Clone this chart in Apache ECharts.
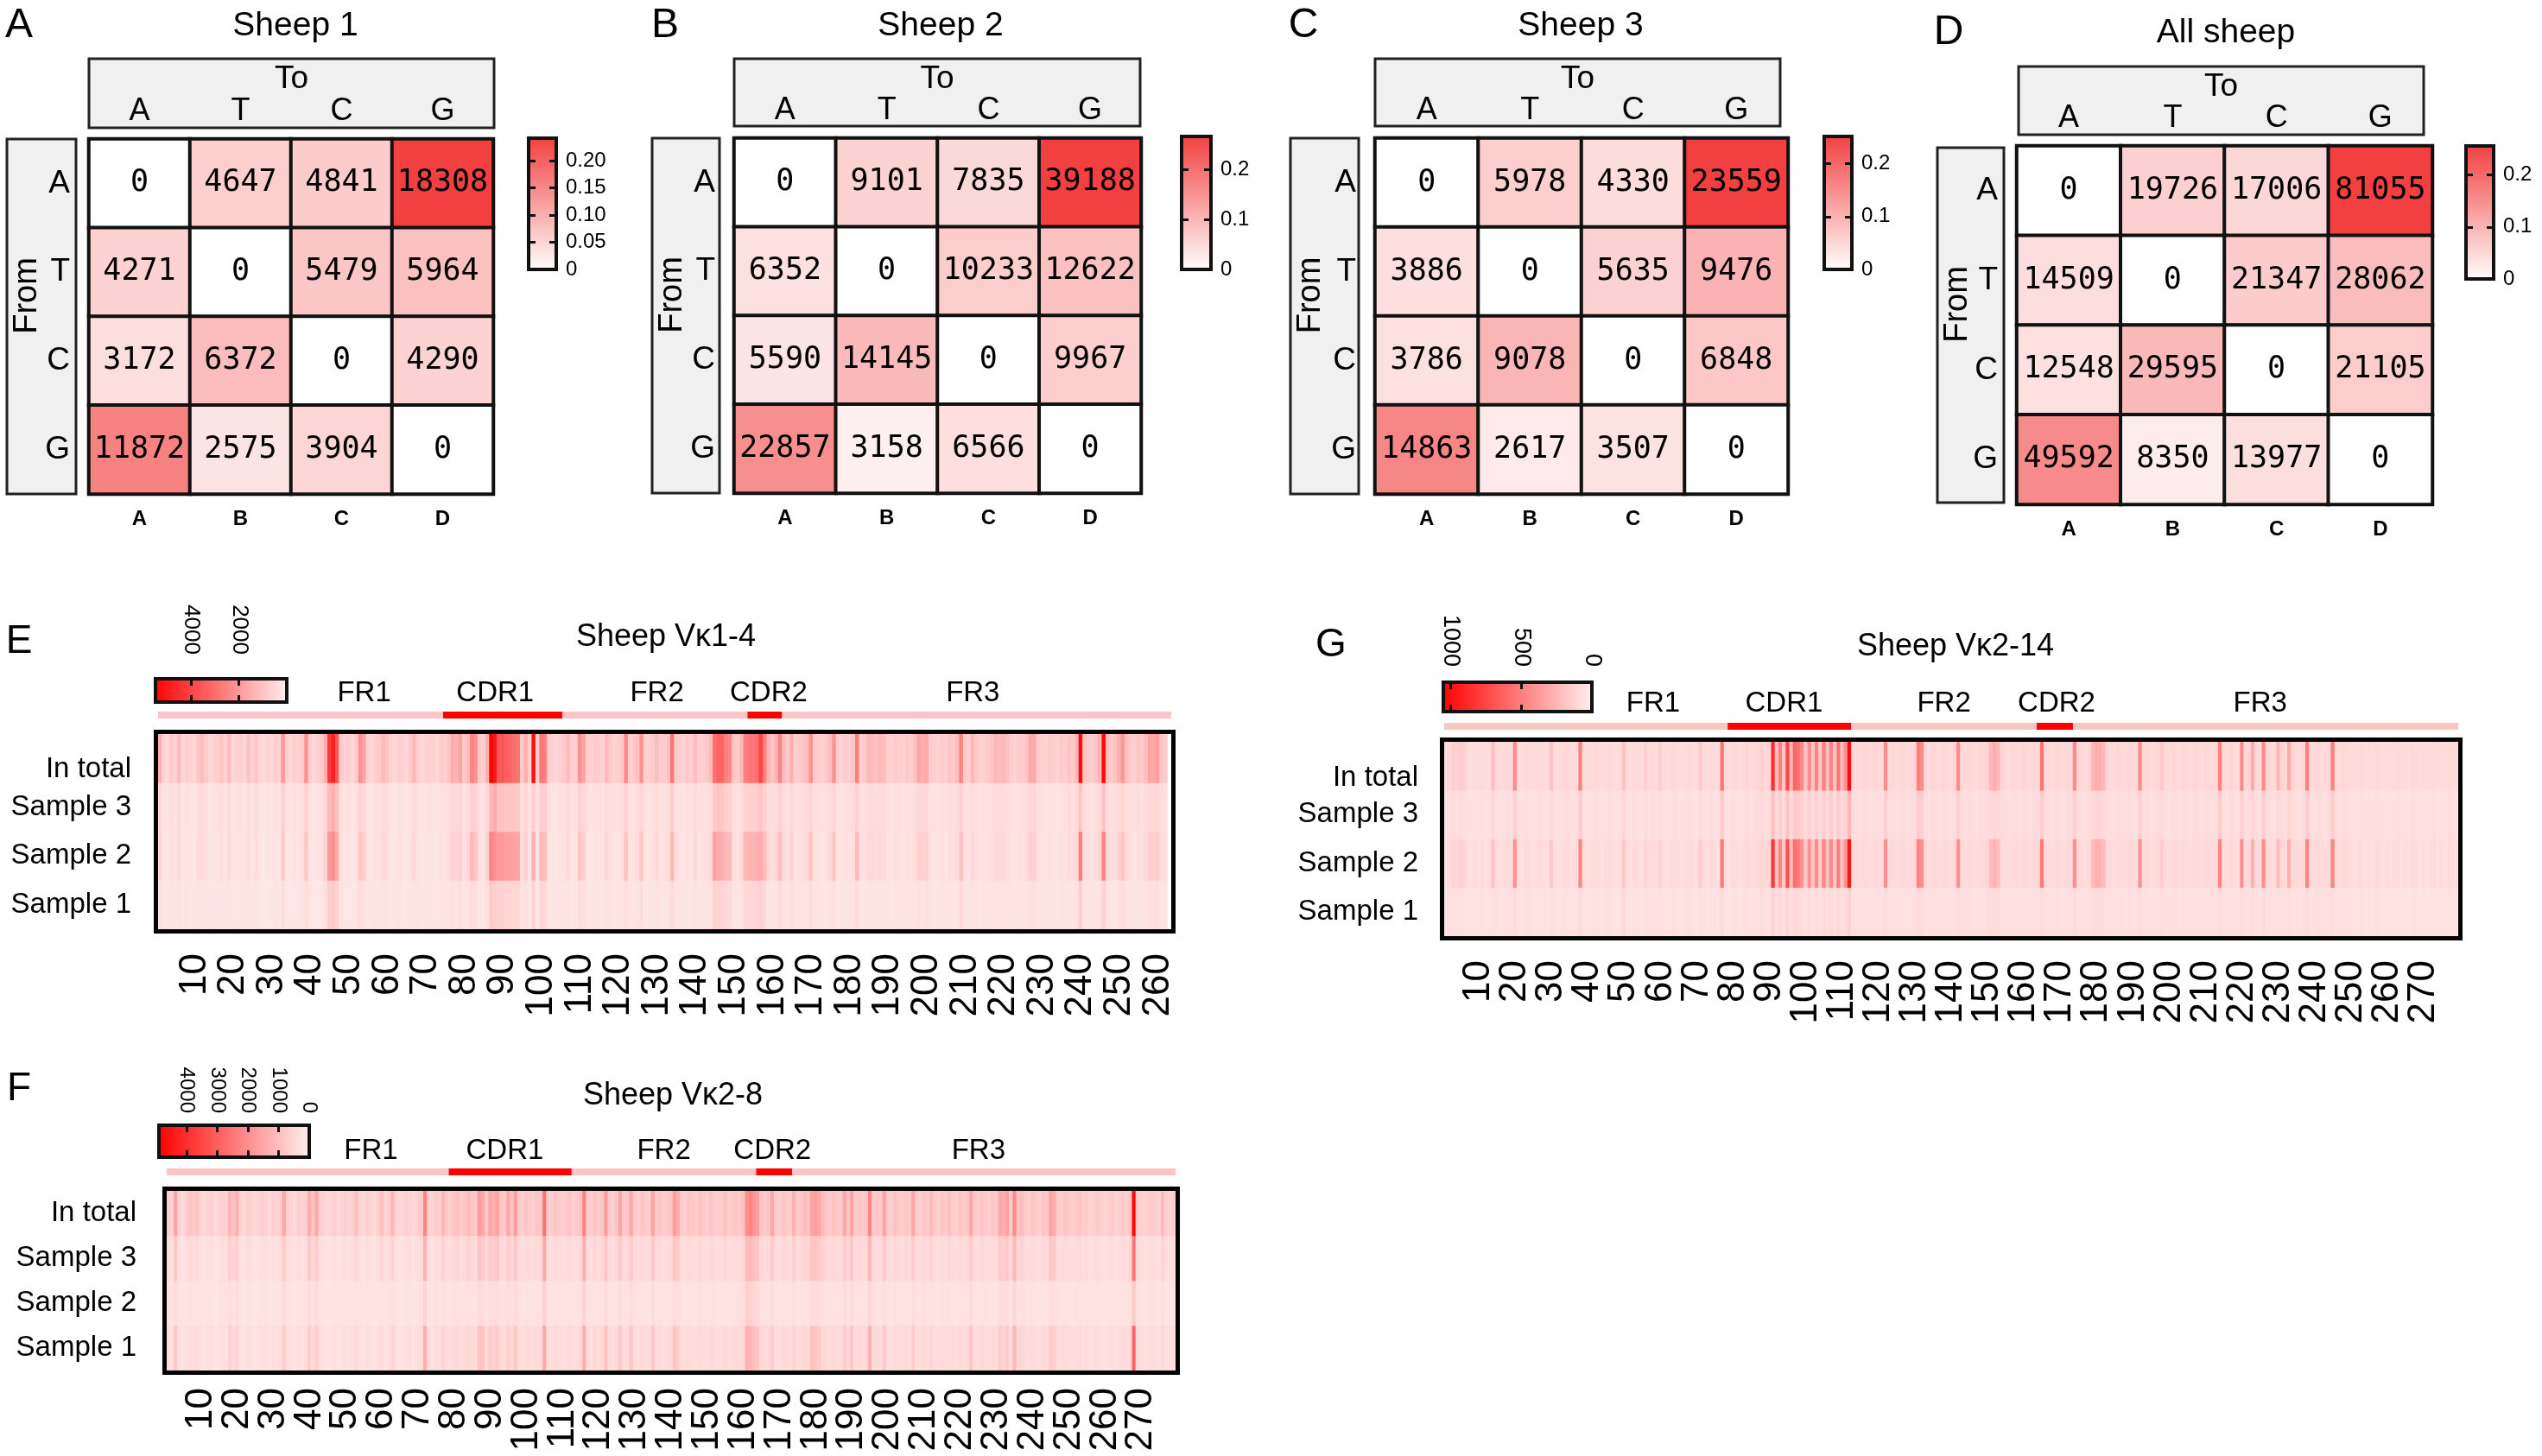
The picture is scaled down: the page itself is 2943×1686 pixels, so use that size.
<!DOCTYPE html>
<html><head><meta charset="utf-8">
<script src="https://cdn.jsdelivr.net/npm/echarts/dist/echarts.min.js"></script>
<style>html,body{margin:0;padding:0;background:#fff}#c{width:2943px;height:1686px}</style>
</head><body><div id="c"></div>
<script>
// ---------------- DATA ----------------
const bases = ['A','T','C','G'];
const bottomLabels = ['A','B','C','D'];
const sheep1 = [[0,4647,4841,18308],[4271,0,5479,5964],[3172,6372,0,4290],[11872,2575,3904,0]];
const sheep2 = [[0,9101,7835,39188],[6352,0,10233,12622],[5590,14145,0,9967],[22857,3158,6566,0]];
const sheep3 = [[0,5978,4330,23559],[3886,0,5635,9476],[3786,9078,0,6848],[14863,2617,3507,0]];
const allSheep = [[0,19726,17006,81055],[14509,0,21347,28062],[12548,29595,0,21105],[49592,8350,13977,0]];
const matrixTitles = ['Sheep 1','Sheep 2','Sheep 3','All sheep'];
const matrixLetters = ['A','B','C','D'];
const rowNames = ['Sample 1','Sample 2','Sample 3','In total'];
const regionNames = ['FR1','CDR1','FR2','CDR2','FR3'];

// Sheep Vk1-4 (panel E), 263 positions
const E_len = 263;
const E_regionStart = [1,75,106,154,163];
const E_regionEnd = [74,105,153,162,263];
const E_labelPos = [54,88,130,159,212];
const E_total = [1500,700,600,900,700,1200,600,800,700,600,
1000,1200,900,600,700,800,1000,700,1200,600,
700,800,600,1100,700,1000,600,500,700,600,
800,700,2000,700,600,800,700,900,2200,800,
600,700,900,1500,4200,4800,3500,900,700,800,
600,900,2200,1800,700,600,800,900,1200,1000,
700,600,800,700,600,900,1300,800,600,700,
800,700,600,900,800,1000,1600,1400,1800,900,
1200,2500,2200,900,700,1500,5500,5000,3500,3600,
3300,3200,3000,2800,900,1500,700,5200,800,2800,
2600,800,700,600,800,900,1200,700,800,2200,
1800,800,700,900,800,700,1300,900,700,800,
900,2400,800,900,1100,2200,800,700,900,1200,
800,900,1000,2800,900,800,700,900,800,1200,
700,800,900,1200,3000,3300,3200,2600,2400,1000,
900,1300,2600,2800,2800,3000,4000,2600,1400,1000,
1400,2500,1200,900,1500,800,900,1000,1200,2200,
900,800,700,900,1200,2200,800,700,900,800,
1000,2600,800,900,1300,1200,1100,1300,1200,800,
700,900,800,700,900,800,1100,1700,1500,1700,
900,800,700,900,800,1000,900,1200,2500,900,
800,1300,900,700,800,900,1000,1300,1200,1300,
1100,800,700,900,800,1100,1700,1600,900,800,
700,900,800,700,900,800,1000,900,1300,5200,
1100,900,800,1000,1400,5300,1200,900,1000,1500,
2000,1100,900,800,1000,900,1200,1800,1700,1900,1000,900];
const E_s3 = [600,350,300,450,350,500,300,400,350,300,
450,500,400,300,350,400,450,350,500,300,
350,400,300,450,350,450,300,250,350,300,
400,350,700,350,300,400,350,400,700,400,
300,350,400,600,1300,1500,1100,400,350,400,
300,400,700,600,350,300,400,400,500,450,
350,300,400,350,300,400,500,400,300,350,
400,350,300,400,400,450,600,550,650,400,
500,800,700,400,350,600,1300,1600,1100,1100,
1000,1000,950,900,400,600,350,800,400,800,
750,400,350,300,400,400,500,350,400,700,
600,400,350,400,400,350,500,400,350,400,
400,700,400,400,450,650,400,350,400,500,
400,400,450,800,400,400,350,400,400,500,
350,400,400,500,900,1000,950,800,750,450,
400,500,700,750,750,800,1000,700,500,450,
500,700,500,400,550,400,400,450,500,650,
400,400,350,400,500,650,400,350,400,400,
450,700,400,400,500,500,450,500,500,400,
350,400,400,350,400,400,450,600,550,600,
400,400,350,400,400,450,400,500,700,400,
400,500,400,350,400,400,450,500,500,500,
450,400,350,400,400,450,600,550,400,400,
350,400,400,350,400,400,450,400,500,1000,
450,400,400,450,500,1100,500,400,450,550,
650,450,400,400,450,400,500,600,550,600,450,400];
const E_s2 = [600,300,250,400,300,500,250,350,300,250,
450,500,400,250,300,350,450,300,500,250,
300,350,250,450,300,450,250,200,300,250,
350,300,900,300,250,350,300,400,1000,350,
250,300,400,700,2000,2300,1600,400,300,350,
250,400,1000,800,300,250,350,400,550,450,
300,250,350,300,250,400,600,350,250,300,
350,300,250,400,350,450,700,650,800,400,
550,1300,1000,400,300,700,2600,2200,2000,2000,
1900,1900,1800,1700,400,700,300,1500,350,1300,
1200,350,300,250,350,400,550,300,350,1000,
800,350,300,400,350,300,600,400,300,350,
400,1100,350,400,500,1000,350,300,400,550,
350,400,450,1300,400,350,300,400,350,550,
300,350,400,550,1800,1600,1500,1300,1200,450,
400,600,1300,1400,1400,1500,1600,1200,650,450,
650,1200,550,400,700,350,400,450,550,1000,
400,350,300,400,550,1000,350,300,400,350,
450,1200,350,400,600,550,500,600,550,350,
300,400,350,300,400,350,500,800,700,800,
400,350,300,400,350,450,400,550,1100,400,
350,600,400,300,350,400,450,600,550,600,
500,350,300,400,350,500,800,750,400,350,
300,400,350,300,400,350,450,400,600,2600,
500,400,350,450,650,2500,550,400,450,700,
1000,500,400,350,450,400,550,800,750,850,450,400];
const E_s1 = [400,250,250,300,250,350,250,300,250,250,
300,350,300,250,250,300,300,250,350,250,
250,300,250,300,250,300,250,200,250,250,
300,250,450,250,250,300,250,300,500,300,
250,250,300,400,800,900,700,300,250,300,
250,300,500,400,250,250,300,300,350,300,
250,250,300,250,250,300,350,300,250,250,
300,250,250,300,300,300,400,350,450,300,
350,500,450,300,250,400,900,800,700,700,
650,650,600,600,300,400,250,700,300,600,
550,300,250,250,300,300,350,250,300,450,
400,300,250,300,300,250,350,300,250,300,
300,450,300,300,350,450,300,250,300,350,
300,300,350,500,300,300,250,300,300,350,
250,300,300,350,700,700,650,550,500,300,
300,350,600,600,650,650,700,550,350,300,
350,500,350,300,400,300,300,300,350,450,
300,300,250,300,350,450,300,250,300,300,
300,500,300,300,350,350,300,350,350,300,
250,300,300,250,300,300,300,400,350,400,
300,300,250,300,300,300,300,350,500,300,
300,350,300,250,300,300,300,350,350,350,
300,300,250,300,300,350,400,400,300,300,
250,300,300,250,300,300,300,300,350,800,
300,300,300,300,350,700,350,300,300,400,
450,300,300,300,300,300,350,400,400,450,300,300];

// Sheep Vk2-8 (panel F), 279 positions
const F_len = 279;
const F_regionStart = [1,79,113,164,174];
const F_regionEnd = [78,112,163,173,279];
const F_labelPos = [57,94,138,168,225];
const F_total = [700,600,1600,600,500,700,900,800,900,600,
500,600,700,500,600,700,600,1200,1000,1300,
600,500,700,600,500,600,700,600,500,700,
600,700,1500,700,600,500,700,600,700,1400,
900,1500,700,600,500,600,700,500,600,700,
600,700,1000,600,500,700,600,500,700,1000,
600,700,1200,600,500,600,700,600,500,700,
800,2200,700,600,800,700,1200,800,700,900,
1000,800,900,1100,900,800,1700,1500,900,1500,
1300,1600,900,800,1500,900,1700,800,700,900,
800,700,900,800,2600,800,700,900,800,700,
800,900,700,800,900,2300,800,700,900,800,
900,1700,800,700,900,1600,800,900,1500,800,
700,900,800,700,1600,800,900,700,800,900,
1700,1400,800,700,900,800,700,1000,800,700,
900,800,700,800,1000,700,800,900,800,1000,
2000,2200,1900,1700,900,800,900,1500,800,700,
900,800,700,1300,800,900,1100,1000,1600,1700,
1500,1100,900,800,1000,900,800,1500,900,1600,
800,900,800,900,2200,800,900,800,1600,800,
700,1000,800,700,900,800,1500,800,700,900,
800,1100,800,700,900,800,1000,800,700,900,
800,900,1500,800,700,900,800,700,900,800,
1500,1300,1600,800,2100,900,1100,800,700,900,
800,700,900,800,1600,1400,800,700,900,800,
700,800,900,700,800,600,700,800,700,600,
700,800,600,700,800,700,900,4700,800,700,
600,700,800,700,600,1100,700,600,700];
const F_s3 = [400,350,900,350,300,400,500,450,500,350,
300,350,400,300,350,400,350,700,550,700,
350,300,400,350,300,350,400,350,300,400,
350,400,800,400,350,300,400,350,400,800,
500,800,400,350,300,350,400,300,350,400,
350,400,550,350,300,400,350,300,400,550,
350,400,650,350,300,350,400,350,300,400,
450,1300,400,350,450,400,650,450,400,500,
550,450,500,600,500,450,900,800,500,800,
700,850,500,450,800,500,900,450,400,500,
450,400,500,450,1500,450,400,500,450,400,
450,500,400,450,500,1400,450,400,500,450,
500,900,450,400,500,850,450,500,800,450,
400,500,450,400,850,450,500,400,450,500,
900,750,450,400,500,450,400,550,450,400,
500,450,400,450,550,400,450,500,450,550,
1100,1200,1000,900,500,450,500,800,450,400,
500,450,400,700,450,500,600,550,900,900,
800,600,500,450,550,500,450,800,500,850,
450,500,450,500,1200,450,500,450,850,450,
400,550,450,400,500,450,800,450,400,500,
450,600,450,400,500,450,550,450,400,500,
450,500,800,450,400,500,450,400,500,450,
800,700,850,450,1200,500,600,450,400,500,
450,400,500,450,850,750,450,400,500,450,
400,450,500,400,450,350,400,450,400,350,
400,450,350,400,450,400,500,2500,450,400,
350,400,450,400,350,600,400,350,400];
const F_s2 = [300,280,400,280,250,300,320,300,330,280,
250,280,300,250,280,300,280,380,330,400,
280,250,300,280,250,280,300,280,250,300,
280,300,420,300,280,250,300,280,300,400,
320,420,300,280,250,280,300,250,280,300,
280,300,330,280,250,300,280,250,300,330,
280,300,360,280,250,280,300,280,250,300,
320,600,300,280,320,300,360,320,300,330,
340,320,330,360,330,320,450,420,330,420,
400,430,330,320,420,330,450,320,300,330,
320,300,330,320,700,320,300,330,320,300,
320,330,300,320,330,600,320,300,330,320,
330,450,320,300,330,430,320,330,420,320,
300,330,320,300,430,320,330,300,320,330,
450,400,320,300,330,320,300,350,320,300,
330,320,300,320,350,300,320,330,320,350,
700,600,550,500,330,320,330,420,320,300,
330,320,300,400,320,330,360,350,450,450,
420,360,330,320,350,330,320,420,330,430,
320,330,320,330,550,320,330,320,430,320,
300,350,320,300,330,320,420,320,300,330,
320,360,320,300,330,320,350,320,300,330,
320,330,420,320,300,330,320,300,330,320,
420,400,430,320,550,330,360,320,300,330,
320,300,330,320,430,400,320,300,330,320,
300,320,330,300,320,280,300,320,300,280,
300,320,280,300,320,300,330,800,320,300,
280,300,320,300,280,360,300,280,300];
const F_s1 = [400,350,850,350,300,400,450,400,450,350,
300,350,400,300,350,400,350,650,500,650,
350,300,400,350,300,350,400,350,300,400,
350,400,750,400,350,300,400,350,400,750,
450,750,400,350,300,350,400,300,350,400,
350,400,500,350,300,400,350,300,400,500,
350,400,600,350,300,350,400,350,300,400,
450,1400,400,350,450,400,600,450,400,500,
500,450,500,550,500,450,1000,900,500,750,
650,800,500,450,750,500,850,450,400,500,
450,400,500,450,1500,450,400,500,450,400,
450,500,400,450,500,1400,450,400,500,450,
500,1000,450,400,500,850,450,500,900,450,
400,500,450,400,850,450,500,400,450,500,
900,700,450,400,500,450,400,500,450,400,
500,450,400,450,500,400,450,500,450,500,
1300,1200,1000,900,500,450,500,750,450,400,
500,450,400,650,450,500,550,500,1000,900,
800,550,500,450,500,500,450,800,500,850,
450,500,450,500,1300,450,500,450,850,450,
400,500,450,400,500,450,750,450,400,500,
450,550,450,400,500,450,500,450,400,500,
450,500,900,450,400,500,450,400,500,450,
800,650,800,450,1200,500,550,450,400,500,
450,400,500,450,800,700,450,400,500,450,
400,450,500,400,450,350,400,450,400,350,
400,450,350,400,450,400,500,2800,450,400,
350,400,450,400,350,550,400,350,400];

// Sheep Vk2-14 (panel G), 279 positions
const G_len = 279;
const G_regionStart = [1,79,113,164,174];
const G_regionEnd = [78,112,163,173,279];
const G_labelPos = [58,94,138,169,225];
const G_total = [90,100,150,140,160,150,100,90,100,90,
100,90,100,220,100,90,100,110,100,450,
100,90,110,100,90,100,110,100,90,200,
100,90,100,110,100,90,100,500,100,90,
100,110,100,90,100,110,100,90,100,200,
100,90,110,100,90,150,100,110,100,150,
100,90,100,110,100,90,100,110,100,90,
180,100,90,110,100,90,550,100,90,110,
100,90,110,120,100,110,120,130,110,120,
850,220,500,180,750,250,600,550,450,180,
450,200,480,180,500,220,480,180,550,220,
420,1000,120,110,100,120,110,100,120,110,
100,450,110,120,100,110,120,100,110,120,
500,450,110,100,120,110,100,120,110,100,
120,450,110,100,120,110,100,120,110,130,
250,300,250,120,110,100,120,110,100,120,
110,100,120,110,550,120,110,100,120,110,
100,120,110,450,120,110,100,120,250,300,
300,250,120,110,100,120,110,100,120,110,
100,450,110,120,100,110,120,180,110,100,
120,110,100,120,110,100,120,110,100,120,
110,100,120,500,110,100,120,110,100,450,
110,120,300,110,100,450,120,110,100,250,
120,110,300,120,110,100,120,500,110,100,
120,110,100,120,500,110,100,120,110,100,
90,100,110,90,100,90,110,100,90,100,
90,100,110,90,100,90,110,100,90,100,
90,100,110,90,100,90,110,100,90];
const G_s3 = [70,80,90,80,90,85,75,70,80,70,
80,70,80,110,80,70,80,85,80,150,
80,70,85,80,70,80,85,80,70,100,
80,70,80,85,80,70,80,160,80,70,
80,85,80,70,80,85,80,70,80,110,
80,70,85,80,70,90,80,85,80,90,
80,70,80,85,80,70,80,85,80,70,
100,80,70,85,80,70,170,80,70,85,
80,70,85,90,80,85,90,95,85,90,
220,100,150,90,200,100,170,160,140,90,
140,95,140,90,150,100,150,90,160,100,
130,250,90,85,80,90,85,80,90,85,
80,150,85,90,80,85,90,80,85,90,
160,150,85,80,90,85,80,90,85,80,
90,150,85,80,90,85,80,90,85,95,
110,120,110,90,85,80,90,85,80,90,
85,80,90,85,170,90,85,80,90,85,
80,90,85,150,90,85,80,90,110,120,
120,110,90,85,80,90,85,80,90,85,
80,150,85,90,80,85,90,100,85,80,
90,85,80,90,85,80,90,85,80,90,
85,80,90,160,85,80,90,85,80,150,
85,90,120,85,80,150,90,85,80,110,
90,85,120,90,85,80,90,160,85,80,
90,85,80,90,160,85,80,90,85,80,
70,80,85,70,80,70,85,80,70,80,
70,80,85,70,80,70,85,80,70,80,
70,80,85,70,80,70,85,80,70];
const G_s2 = [80,90,130,120,140,130,90,80,90,80,
90,80,90,200,90,80,90,100,90,420,
90,80,100,90,80,90,100,90,80,180,
90,80,90,100,90,80,90,470,90,80,
90,100,90,80,90,100,90,80,90,180,
90,80,100,90,80,130,90,100,90,130,
90,80,90,100,90,80,90,100,90,80,
160,90,80,100,90,80,520,90,80,100,
90,80,100,110,90,100,110,120,100,110,
800,200,470,160,700,230,570,520,420,160,
420,180,450,160,470,200,450,160,520,200,
400,950,110,100,90,110,100,90,110,100,
90,430,100,110,90,100,110,90,100,110,
480,430,100,90,110,100,90,110,100,90,
110,430,100,90,110,100,90,110,100,120,
230,280,230,110,100,90,110,100,90,110,
100,90,110,100,520,110,100,90,110,100,
90,110,100,430,110,100,90,110,230,280,
280,230,110,100,90,110,100,90,110,100,
90,430,100,110,90,100,110,160,100,90,
110,100,90,110,100,90,110,100,90,110,
100,90,110,470,100,90,110,100,90,430,
100,110,280,100,90,430,110,100,90,230,
110,100,280,110,100,90,110,480,100,90,
110,100,90,110,480,100,90,110,100,90,
80,90,100,80,90,80,100,90,80,90,
80,90,100,80,90,80,100,90,80,90,
80,90,100,80,90,80,100,90,80];
const G_s1 = [60,70,75,70,75,70,65,60,70,60,
70,60,70,80,70,60,70,75,70,90,
70,60,75,70,60,70,75,70,60,80,
70,60,70,75,70,60,70,90,70,60,
70,75,70,60,70,75,70,60,70,110,
70,60,75,70,60,80,70,75,70,80,
70,60,70,75,70,60,70,75,70,60,
80,70,60,75,70,60,100,70,60,75,
70,60,75,80,70,75,80,85,75,80,
130,80,100,75,120,80,110,100,95,75,
90,80,90,75,100,80,100,75,110,80,
90,140,80,75,70,80,75,70,80,75,
70,90,75,80,70,75,80,70,75,80,
100,90,75,70,80,75,70,80,75,70,
80,90,75,70,80,75,70,80,75,85,
90,95,90,80,75,70,80,75,70,80,
75,70,80,75,100,80,75,70,80,75,
70,80,75,90,80,75,70,80,85,90,
90,85,80,75,70,80,75,70,80,75,
70,90,75,80,70,75,80,85,75,70,
80,75,70,80,75,70,80,75,70,80,
75,70,80,95,75,70,80,75,70,90,
75,80,85,75,70,90,80,75,70,80,
80,75,85,80,75,70,80,95,75,70,
80,75,70,80,95,75,70,80,75,70,
60,70,75,60,70,60,75,70,60,70,
60,70,75,60,70,60,75,70,60,70,
60,70,75,60,70,60,75,70,60];

// ---------------- BUILD ----------------
const SANS = "'Liberation Sans', Arial, sans-serif";
const MONO = "'DejaVu Sans Mono', monospace";
const MAT_LOW = '#ffffff', MAT_HIGH = '#f23f3f';
const SEQ_LOW = '#fff1f1', SEQ_HIGH = '#ff0000';
const grids=[], xAxes=[], yAxes=[], series=[], visualMaps=[], graphics=[];
function addGrid(g){ grids.push(Object.assign({containLabel:false, outerBoundsMode:'none'}, g)); return grids.length-1; }
function addX(a){ xAxes.push(a); return xAxes.length-1; }
function addY(a){ yAxes.push(a); return yAxes.length-1; }
function txt(x,y,text,fs,extra){
  const st = Object.assign({text, fontSize:fs, fontFamily:SANS, fill:'#000', align:'center', verticalAlign:'middle', textAlign:'center', textVerticalAlign:'middle'}, extra||{});
  return {type:'text', x, y, z:10, style:st};
}
function verticalBar(c0,c1){
  return function(params, api){
    const cs = params.coordSys;
    const top = api.coord([0, api.value(2)])[1];
    const bot = api.coord([0, api.value(1)])[1];
    return {type:'rect', shape:{x:cs.x, y:top, width:cs.width, height:bot-top},
      style:{fill:new echarts.graphic.LinearGradient(0,0,0,1,[{offset:0,color:c1},{offset:1,color:c0}]), stroke:'#111', lineWidth:4}};
  };
}
function horizontalBar(c0,c1){
  return function(params, api){
    const cs = params.coordSys;
    const a = api.coord([api.value(1), 0])[0];
    const b = api.coord([api.value(0), 0])[0];
    const x0 = Math.min(a,b);
    return {type:'rect', shape:{x:x0, y:cs.y, width:Math.abs(b-a), height:cs.height},
      style:{fill:new echarts.graphic.LinearGradient(0,0,1,0,[{offset:0,color:c1},{offset:1,color:c0}]), stroke:'#111', lineWidth:4}};
  };
}

function matrixPanel(mat, title, letter, L){
  const gi = addGrid({left:L.grid[0], top:L.grid[1], width:L.grid[2], height:L.grid[3]});
  const xt = addX({gridIndex:gi, type:'category', data:bases, position:'top', axisLine:{show:false}, axisTick:{show:false}, splitLine:{show:false},
    axisLabel:{color:'#000', fontFamily:SANS, fontSize:36, margin:14}});
  addX({gridIndex:gi, type:'category', data:bottomLabels, position:'bottom', axisLine:{show:false}, axisTick:{show:false},
    axisLabel:{color:'#000', fontFamily:SANS, fontWeight:'bold', fontSize:24, margin:17}});
  const yi = addY({gridIndex:gi, type:'category', data:bases, inverse:true, axisLine:{show:false}, axisTick:{show:false},
    axisLabel:{color:'#000', fontFamily:SANS, fontSize:37, margin:22}});
  let total=0, maxV=0; const data=[];
  mat.forEach((row,r)=>row.forEach((v,c)=>{ data.push([c,r,v]); total+=v; if(v>maxV) maxV=v; }));
  series.push({type:'heatmap', xAxisIndex:xt, yAxisIndex:yi, data, z:2,
    label:{show:true, color:'#000', fontFamily:MONO, fontSize:35, formatter:p=>String(p.value[2])},
    itemStyle:{borderColor:'#111', borderWidth:4}, emphasis:{disabled:true}});
  visualMaps.push({type:'continuous', show:false, seriesIndex:series.length-1, dimension:2, min:0, max:maxV, inRange:{color:[MAT_LOW, MAT_HIGH]}});
  const maxFrac = maxV/total;
  const cg = addGrid({left:L.cb[0], top:L.cb[1], width:L.cb[2], height:L.cb[3]});
  const cx = addX({gridIndex:cg, type:'category', data:['scale'], show:false});
  const tick = {show:true, inside:true, length:8, lineStyle:{color:'#111', width:3}};
  const cy = addY({gridIndex:cg, type:'value', min:0, max:maxFrac, interval:L.cbInterval, position:'right', z:5,
    axisLine:{show:false}, splitLine:{show:false}, axisTick:tick,
    axisLabel:{color:'#000', fontFamily:SANS, fontSize:24, margin:11, showMaxLabel:false, formatter:v=> v===0?'0':v.toFixed(L.cbDigits)}});
  addY({gridIndex:cg, type:'value', min:0, max:maxFrac, interval:L.cbInterval, position:'left', z:5,
    axisLine:{show:false}, splitLine:{show:false}, axisTick:tick, axisLabel:{show:false}});
  series.push({type:'custom', xAxisIndex:cx, yAxisIndex:cy, z:1, clip:false, silent:true,
    data:[[0,0,maxFrac]], encode:{x:0, y:[1,2]}, renderItem:verticalBar(MAT_LOW, MAT_HIGH)});
  const tb=L.toBox, fb=L.fromBox;
  graphics.push({type:'rect', z:0, shape:{x:tb[0],y:tb[1],width:tb[2],height:tb[3]}, style:{fill:'#f0f0f0', stroke:'#222', lineWidth:3}});
  graphics.push(txt(tb[0]+tb[2]/2, tb[1]+24, 'To', 37));
  graphics.push({type:'rect', z:0, shape:{x:fb[0],y:fb[1],width:fb[2],height:fb[3]}, style:{fill:'#f0f0f0', stroke:'#222', lineWidth:3}});
  const fromT = txt(fb[0]+24, fb[1]+fb[3]/2-24, 'From', 38); fromT.rotation = Math.PI/2; graphics.push(fromT);
  graphics.push(txt(L.title[0], L.title[1], title, 39));
  graphics.push(txt(L.letter[0], L.letter[1], letter, 48));
}

function regionRenderer(names, barOff, labOff){
  return function(params, api){
    const cs = params.coordSys;
    const bw = api.size([1,0])[0];
    const x0 = api.coord([api.value(0)-1, 0])[0] - bw/2;
    const x1 = api.coord([api.value(1)-1, 0])[0] + bw/2;
    const xl = api.coord([api.value(2)-1, 0])[0];
    const nm = names[params.dataIndex];
    const cdr = nm.indexOf('CDR')===0;
    const kids = [
      {type:'rect', shape:{x:x0, y:cs.y-barOff-4, width:x1-x0, height:8}, style:{fill: cdr?'#ff0000':'#fcc5c5'}},
      {type:'text', x:xl, y:cs.y-labOff, style:{text:nm, fill:'#000', fontSize:33, fontFamily:SANS, align:'center', verticalAlign:'middle', textAlign:'center', textVerticalAlign:'middle'}}
    ];
    if (params.dataIndex === 0) {
      kids.push({type:'rect', shape:{x:cs.x-2.5, y:cs.y-2.5, width:cs.width+5, height:cs.height+5}, style:{fill:'none', stroke:'#000', lineWidth:5}});
    }
    return {type:'group', children:kids};
  };
}

function seqPanel(C){
  const g=C.grid;
  const gi = addGrid({left:g[0]+5, top:g[1]+5, width:g[2]-10, height:g[3]-10, show:true, borderWidth:0, backgroundColor:'#fff'});
  const cats = []; for(let i=1;i<=C.len;i++) cats.push(String(i));
  const xi = addX({gridIndex:gi, type:'category', data:cats, axisLine:{show:false}, axisTick:{show:false}, splitLine:{show:false},
    axisLabel:{interval:0, formatter:v=> ((+v)%10===0 ? v : ''), rotate:90, fontSize:44, fontFamily:SANS, color:'#000', margin:C.xMargin, hideOverlap:false}});
  const yi = addY({gridIndex:gi, type:'category', data:rowNames, axisLine:{show:false}, axisTick:{show:false}, splitLine:{show:false},
    axisLabel:{fontSize:33, fontFamily:SANS, color:'#000', margin:C.yMargin,
      formatter:v=> v==='In total' ? '{t|'+v+'}' : v,
      rich:{t:{fontSize:33, fontFamily:SANS, color:'#000', padding:[C.totalShift,0,0,0]}}}});
  const data=[];
  C.rows.forEach((arr,r)=>arr.forEach((v,i)=>data.push([i,r,v])));
  series.push({type:'heatmap', xAxisIndex:xi, yAxisIndex:yi, data, z:2, progressive:0, itemStyle:{borderWidth:0}, emphasis:{disabled:true}});
  visualMaps.push({type:'continuous', show:false, seriesIndex:series.length-1, dimension:2, min:0, max:C.max, inRange:{color:[SEQ_LOW, SEQ_HIGH]}});
  const rdata = C.rStart.map((s,i)=>[s, C.rEnd[i], C.rLabel[i], 3]);
  series.push({type:'custom', xAxisIndex:xi, yAxisIndex:yi, clip:false, silent:true, z:3, data:rdata, encode:{x:[0,1,2], y:3},
    renderItem:regionRenderer(regionNames, C.barOff, C.labOff)});
  // colour scale
  const cb=C.cb;
  const cg = addGrid({left:cb[0], top:cb[1], width:cb[2], height:cb[3]});
  const tick = {show:true, inside:true, length:8, lineStyle:{color:'#111', width:3}};
  const cxt = addX({gridIndex:cg, type:'value', min:0, max:C.max, interval:C.cbInterval, inverse:true, position:'top', z:5,
    axisLine:{show:false}, splitLine:{show:false}, axisTick:tick,
    axisLabel:{rotate:90, fontSize:C.cbFont, fontFamily:SANS, color:'#000', margin:C.cbMargin, showMinLabel:C.cbShowMin, showMaxLabel:false, formatter:v=>String(v)}});
  addX({gridIndex:cg, type:'value', min:0, max:C.max, interval:C.cbInterval, inverse:true, position:'bottom', z:5,
    axisLine:{show:false}, splitLine:{show:false}, axisTick:tick, axisLabel:{show:false}});
  const cy = addY({gridIndex:cg, type:'category', data:['scale'], show:false});
  series.push({type:'custom', xAxisIndex:cxt, yAxisIndex:cy, z:1, clip:false, silent:true,
    data:[[0,C.max,0]], encode:{x:[0,1], y:2}, renderItem:horizontalBar(SEQ_LOW, SEQ_HIGH)});
  graphics.push(txt(C.title[0], C.title[1], C.titleText, 36));
  graphics.push(txt(C.letter[0], C.letter[1], C.letterText, 46));
}

matrixPanel(sheep1, matrixTitles[0], matrixLetters[0], {grid:[103,161,468,411], toBox:[103,68,469,80], fromBox:[8,161,80,411], title:[342,30], letter:[22,30], cb:[612,160,32,152], cbInterval:0.05, cbDigits:2});
matrixPanel(sheep2, matrixTitles[1], matrixLetters[1], {grid:[850,160,471,411], toBox:[850,68,470,78], fromBox:[755,160,78,411], title:[1089,30], letter:[770,30], cb:[1368,158,34,154], cbInterval:0.1, cbDigits:1});
matrixPanel(sheep3, matrixTitles[2], matrixLetters[2], {grid:[1592,160,478,412], toBox:[1592,68,469,78], fromBox:[1494,160,79,412], title:[1830,30], letter:[1509,30], cb:[2112,158,32,154], cbInterval:0.1, cbDigits:1});
matrixPanel(allSheep, matrixTitles[3], matrixLetters[3], {grid:[2335,169,481,415], toBox:[2337,77,469,79], fromBox:[2243,171,77,411], title:[2577,38], letter:[2256,38], cb:[2855,169,32,154], cbInterval:0.1, cbDigits:1});

seqPanel({grid:[178,845,1183,236], len:E_len, rows:[E_s1,E_s2,E_s3,E_total], max:5500,
  rStart:E_regionStart, rEnd:E_regionEnd, rLabel:E_labelPos, barOff:17+5, labOff:42+5, totalShift:26,
  xMargin:28, yMargin:31, cb:[180,786,152,27], cbInterval:2000, cbFont:26, cbMargin:28, cbShowMin:false,
  title:[771,738], titleText:'Sheep Vκ1-4', letter:[22,743], letterText:'E'});
seqPanel({grid:[188,1374,1178,218], len:F_len, rows:[F_s1,F_s2,F_s3,F_total], max:4900,
  rStart:F_regionStart, rEnd:F_regionEnd, rLabel:F_labelPos, barOff:17+5, labOff:41+5, totalShift:0,
  xMargin:20, yMargin:35, cb:[184,1303,174,37], cbInterval:1000, cbFont:24, cbMargin:14, cbShowMin:true,
  title:[779,1269], titleText:'Sheep Vκ2-8', letter:[22,1261], letterText:'F'});
seqPanel({grid:[1667,854,1184,235], len:G_len, rows:[G_s1,G_s2,G_s3,G_total], max:1050,
  rStart:G_regionStart, rEnd:G_regionEnd, rLabel:G_labelPos, barOff:13+5, labOff:39+5, totalShift:28,
  xMargin:28, yMargin:30, cb:[1671,790,172,34], cbInterval:500, cbFont:27, cbMargin:18, cbShowMin:true,
  title:[2264,749], titleText:'Sheep Vκ2-14', letter:[1541,747], letterText:'G'});

const chart = echarts.init(document.getElementById('c'), null, {renderer:'canvas', width:2943, height:1686});
chart.setOption({
  animation:false, backgroundColor:'#ffffff',
  textStyle:{fontFamily:SANS},
  grid:grids, xAxis:xAxes, yAxis:yAxes, visualMap:visualMaps, series:series, graphic:{elements:graphics}
});
</script>
</body></html>
